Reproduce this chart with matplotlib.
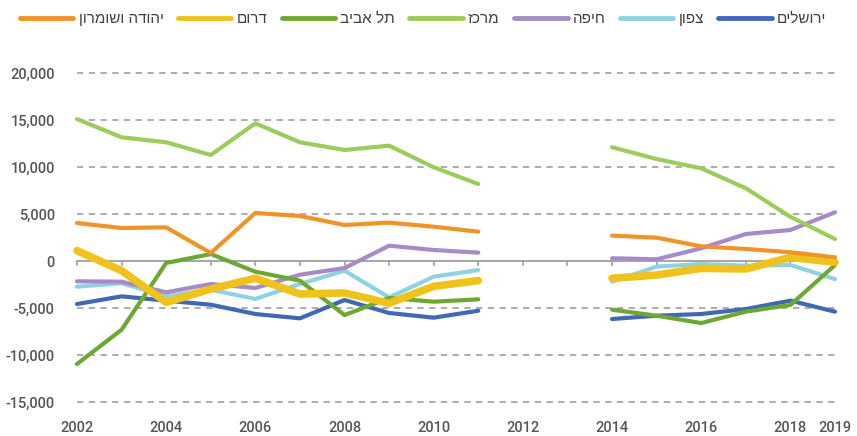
import numpy as np
import matplotlib
matplotlib.use("Agg")
import matplotlib.pyplot as plt
from matplotlib.lines import Line2D

years_a = [2002, 2003, 2004, 2005, 2006, 2007, 2008, 2009, 2010, 2011]
years_b = [2014, 2015, 2016, 2017, 2018, 2019]

# values per district (first segment 2002-2011, second 2014-2019)
jerusalem_a = [-4580, -3760, -4220, -4650, -5640, -6100, -4150, -5530, -6030, -5290]
jerusalem_b = [-6170, -5820, -5640, -5110, -4220, -5390]
north_a = [-2730, -2370, -3760, -3050, -4040, -2450, -1030, -3870, -1670, -960]
north_b = [-2200, -600, -320, -500, -430, -1920]
haifa_a = [-2160, -2200, -3330, -2450, -2870, -1460, -750, 1630, 1170, 890]
haifa_b = [290, 180, 1350, 2870, 3300, 5180]
center_a = [15100, 13160, 12630, 11280, 14650, 12630, 11810, 12270, 9970, 8190]
center_b = [12100, 10850, 9860, 7740, 4700, 2340]
telaviv_a = [-10960, -7310, -210, 740, -1140, -2090, -5750, -3940, -4330, -4080]
telaviv_b = [-5180, -5820, -6600, -5390, -4680, -430]
south_a = [1100, -1030, -4400, -2980, -1840, -3510, -3400, -4500, -2690, -2090]
south_b = [-1840, -1490, -780, -850, 390, -140]
judea_a = [4040, 3510, 3580, 850, 5110, 4790, 3830, 4080, 3650, 3120]
judea_b = [2700, 2480, 1560, 1280, 930, 390]

names = ["ירושלים", "צפון", "חיפה", "מרכז", "תל אביב", "דרום", "יהודה ושומרון"]
colors = ["#4169b3", "#8fd3e3", "#a68bc6", "#9ccc5c", "#6ea834", "#f0c21c", "#ef9428"]
widths = [3.0, 3.0, 3.0, 3.0, 3.0, 5.5, 3.0]
series_a = [jerusalem_a, north_a, haifa_a, center_a, telaviv_a, south_a, judea_a]
series_b = [jerusalem_b, north_b, haifa_b, center_b, telaviv_b, south_b, judea_b]

xtick_labels = [2002, 2004, 2006, 2008, 2010, 2012, 2014, 2016, 2018, 2019]
ytick_vals = [-15000, -10000, -5000, 0, 5000, 10000, 15000, 20000]

W, H = 857, 436
fig = plt.figure(figsize=(W / 100, H / 100), dpi=100)
ax = fig.add_axes([77 / W, (H - 402) / H, (835 - 77) / W, (402 - 73) / H])
ax.set_xlim(2002, 2019)
ax.set_ylim(-15000, 20000)

for s in ax.spines.values():
    s.set_visible(False)

# gridlines
for v in ytick_vals:
    if v == 0:
        continue
    ax.axhline(v, color="#a6a6a6", lw=1.3, ls=(0, (3.5, 3)), zorder=0, clip_on=False)
ax.axhline(0, color="#a6a6a6", lw=1.4, zorder=1, clip_on=False)
# small ticks below zero line
for yr in range(2002, 2020):
    ax.plot([yr, yr], [0, -450], color="#a6a6a6", lw=1.3, zorder=1, clip_on=False)

for i in range(len(names)):
    for xs, ys in ((years_a, series_a[i]), (years_b, series_b[i])):
        ax.plot(xs, ys, color=colors[i], lw=widths[i],
                solid_capstyle="round", solid_joinstyle="round",
                clip_on=False, zorder=3)

ax.set_xticks(xtick_labels)
ax.set_xticklabels([str(v) for v in xtick_labels])
ax.set_yticks(ytick_vals)
ax.set_yticklabels([f"{v:,}" for v in ytick_vals])
ax.tick_params(axis="both", length=0, labelsize=10.5, labelcolor="#555555")
ax.tick_params(axis="x", pad=14)
ax.tick_params(axis="y", pad=16)
for lab in ax.get_xticklabels() + ax.get_yticklabels():
    lab.set_fontfamily("Roboto")
    lab.set_fontweight("medium")

# legend (left to right: reverse order, Hebrew displayed visually)
leg_order = [6, 5, 4, 3, 2, 1, 0]
leg_handles = [Line2D([0], [0], color=colors[i], lw=3.5, solid_capstyle="round") for i in leg_order]
leg_labels = [names[i][::-1] for i in leg_order]
fig.legend(leg_handles, leg_labels, loc="center left", bbox_to_anchor=(20 / W, 1 - 19 / H),
           ncol=7, frameon=False, handlelength=3.5, handletextpad=0.33,
           columnspacing=0.95, borderpad=0, borderaxespad=0,
           prop={"family": "Liberation Sans", "size": 11},
           labelcolor="#404040")

fig.savefig("out.png", dpi=100)
